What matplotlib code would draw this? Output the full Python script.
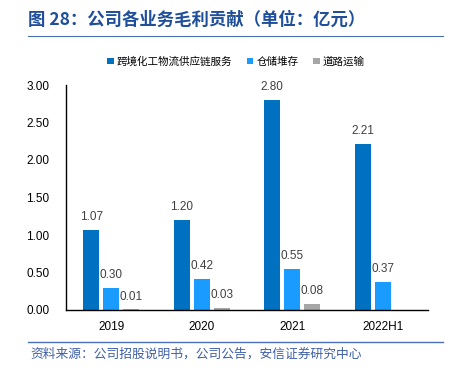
import numpy as np
import matplotlib.pyplot as plt
from matplotlib.lines import Line2D

plt.rcParams['font.family'] = ['Liberation Sans', 'Noto Sans CJK SC', 'DejaVu Sans']

years = ['2019', '2020', '2021', '2022H1']
series_names = ['跨境化工物流供应链服务', '仓储堆存', '道路运输']
cross_border = [1.07, 1.20, 2.80, 2.21]
storage = [0.30, 0.42, 0.55, 0.37]
road = [0.01, 0.03, 0.08, None]
colors = ['#0070C0', '#1A9BFF', '#A6A6A6']

fig = plt.figure(figsize=(4.52, 3.73), dpi=100)
ax = fig.add_axes([66 / 452, 1 - 310 / 373, (428 - 66) / 452, (310 - 85) / 373])

x = np.arange(len(years))
w = 0.177
step = 0.22
for i, (vals, c) in enumerate(zip([cross_border, storage, road], colors)):
    xs = [xi + (i - 1) * step for xi, v in zip(x, vals) if v is not None]
    vs = [v for v in vals if v is not None]
    ax.bar(xs, vs, width=w, color=c, label=series_names[i])
    for xx, v in zip(xs, vs):
        ax.text(xx, v + 0.09, f'{v:.2f}', ha='center', va='bottom',
                fontsize=8.5, color='#404040')

ax.set_xlim(-0.5, len(years) - 0.5)
ax.set_ylim(0, 3.0)
ax.set_yticks(np.arange(0, 3.01, 0.5))
ax.set_yticklabels([f'{t:.2f}' for t in np.arange(0, 3.01, 0.5)], fontsize=8.5)
ax.set_xticks(x)
ax.set_xticklabels(years, fontsize=8.5)
ax.tick_params(length=0, pad=8)
ax.tick_params(axis='y', pad=12)
for s in ['top', 'right']:
    ax.spines[s].set_visible(False)
ax.spines['left'].set_linewidth(1.0)
ax.spines['bottom'].set_linewidth(1.0)

ax.legend(loc='upper center', bbox_to_anchor=(0.47, 1.17), ncol=3, frameon=False,
          handlelength=0.6, handleheight=0.6, handletextpad=0.3,
          columnspacing=1.4, prop={'family': ['Noto Sans CJK SC'], 'size': 7.6})

fig.text(28 / 452, 1 - 20 / 373, '图 28：公司各业务毛利贡献（单位：亿元）',
         fontsize=12.5, fontweight='bold', color='#1F4E9A', va='center',
         family=['Noto Sans CJK SC', 'DejaVu Sans'])
fig.add_artist(Line2D([28 / 452, 443 / 452], [1 - 35.5 / 373] * 2, color='#4A6FB5', lw=0.8))
fig.add_artist(Line2D([28 / 452, 443 / 452], [1 - 342 / 373] * 2, color='#4A6FB5', lw=1.0))
fig.text(30 / 452, 1 - 354 / 373, '资料来源：公司招股说明书，公司公告，安信证券研究中心',
         fontsize=9.2, color='#3F5FA8', va='center', family=['Noto Sans CJK SC'])

fig.savefig('out.png', dpi=100)
